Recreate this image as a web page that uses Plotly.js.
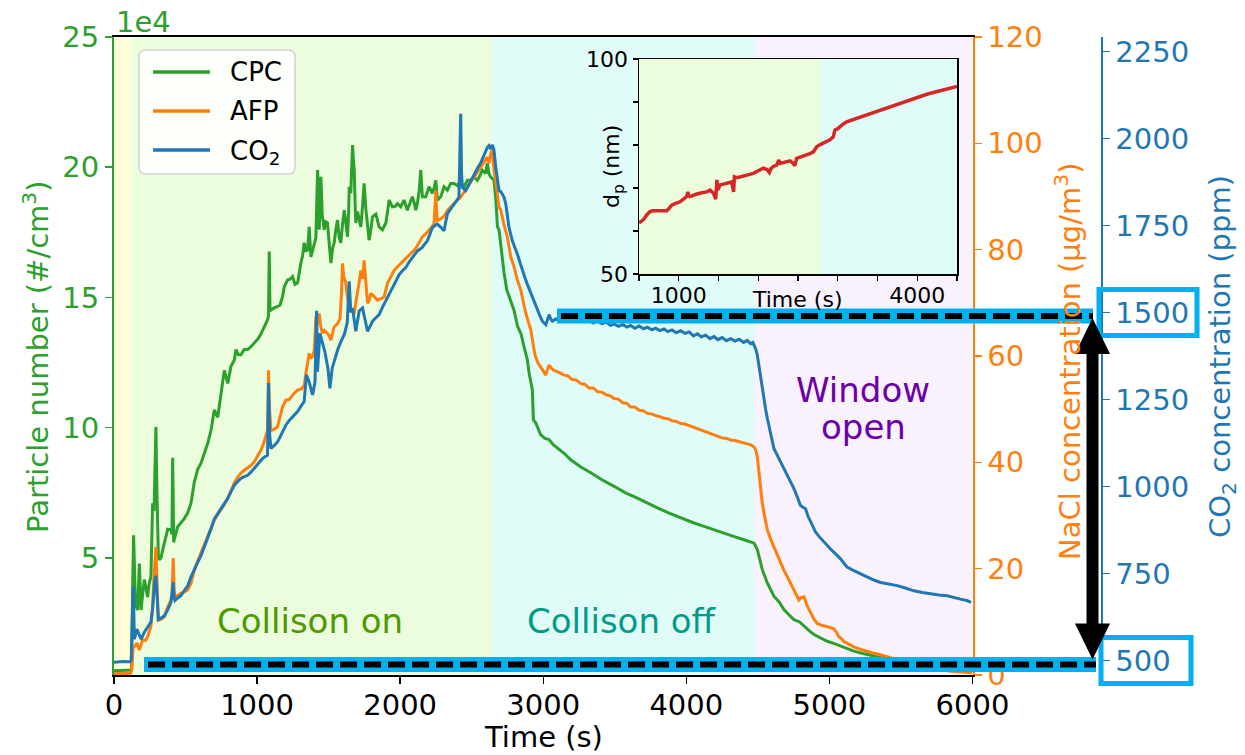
<!DOCTYPE html>
<html><head><meta charset="utf-8">
<script src="https://cdn.plot.ly/plotly-3.0.1.min.js"></script>
<style>html,body{margin:0;padding:0;background:#fff;} #chart{width:1245px;height:755px;}</style>
</head><body><div id="chart"></div>
<script>
// ---------------- DATA ----------------
// CPC particle number (#/cm3) : [time s, value]
const cpcSeries = [[0,6700],[60,6800],[115,6700],[122,7000],[130,38000],[137,58700],[150,32000],[165,30000],[177,47800],[189,30000],[200,36000],[212,41700],[235,35000],[245,40000],[258,42800],[265,69000],[270,71000],[280,68000],[293,100300],[300,75000],[310,50500],[317,49300],[328,50000],[352,55800],[375,61000],[398,60800],[405,59000],[410,88500],[417,56000],[421,57000],[445,62000],[468,63500],[490,65000],[515,67300],[538,71000],[561,79000],[585,84000],[608,86400],[631,90000],[655,94000],[678,99000],[701,106800],[725,104000],[748,113300],[771,122000],[795,117000],[817,123500],[841,126000],[852,130000],[870,128000],[887,128000],[910,130000],[934,130000],[955,131000],[980,132400],[1005,134000],[1027,136000],[1050,138800],[1073,141400],[1080,143000],[1085,167600],[1090,146000],[1097,145200],[1120,146000],[1143,146500],[1160,147000],[1178,150300],[1190,154100],[1213,156700],[1230,157000],[1248,158000],[1265,155000],[1283,155600],[1295,160000],[1306,163200],[1318,166000],[1329,171000],[1341,168000],[1353,168200],[1364,177100],[1376,165600],[1388,168000],[1399,171000],[1411,173000],[1423,198900],[1429,180000],[1434,176000],[1440,185000],[1446,196300],[1455,182000],[1469,176000],[1480,179000],[1492,178600],[1505,170000],[1516,163200],[1528,169000],[1539,171000],[1550,176000],[1562,179700],[1574,173000],[1585,171000],[1597,178000],[1609,183500],[1620,179000],[1632,173300],[1640,183000],[1644,192500],[1655,190000],[1662,198000],[1667,208500],[1673,203000],[1679,198900],[1685,186000],[1690,178600],[1702,183000],[1714,180000],[1725,177100],[1737,185000],[1748,193800],[1760,184000],[1772,178600],[1783,172000],[1795,176000],[1807,181000],[1830,182000],[1853,177100],[1876,176000],[1900,178600],[1912,183000],[1923,187400],[1946,184800],[1965,185000],[1981,186000],[2004,184800],[2027,187400],[2050,183500],[2067,186000],[2085,188700],[2100,186000],[2109,183500],[2120,186000],[2133,191200],[2144,198900],[2150,190000],[2155,188700],[2179,188700],[2202,192500],[2225,190000],[2237,192000],[2249,195000],[2260,187400],[2284,188700],[2307,192500],[2330,191200],[2353,193800],[2376,193800],[2400,193000],[2411,193800],[2423,194000],[2446,192500],[2470,195000],[2493,195000],[2516,196300],[2540,195000],[2551,196000],[2574,198900],[2597,197600],[2609,201500],[2620,197600],[2632,196300],[2656,195000],[2668,188000],[2680,177100],[2691,176000],[2703,169500],[2726,159400],[2745,153000],[2765,150000],[2796,145000],[2820,139000],[2845,136000],[2866,131000],[2889,126000],[2901,121000],[2924,114500],[2928,108000],[2931,103000],[2947,101900],[2982,97300],[3010,96000],[3041,95400],[3070,93500],[3099,92300],[3150,90000],[3192,87700],[3260,85000],[3332,82700],[3410,80000],[3495,77500],[3575,75000],[3658,73000],[3730,71000],[3798,69200],[3880,67200],[3961,65300],[4040,63700],[4124,62100],[4190,60800],[4263,59600],[4330,58300],[4403,57000],[4473,55700],[4496,53200],[4515,49000],[4531,45500],[4566,40400],[4612,35300],[4650,33000],[4682,30200],[4720,28000],[4752,26300],[4790,25500],[4822,23800],[4860,22000],[4892,20600],[4940,19300],[4985,18000],[5030,17200],[5078,16100],[5125,15200],[5171,14200],[5220,13500],[5265,12900],[5330,12000],[5420,11000],[5550,10000],[5700,9300],[5850,8800],[6000,8500]];

// AFP NaCl mass concentration (ug/m3) : [time s, value]
const afpSeries = [[0,0.3],[115,0.3],[125,1.0],[133,5.0],[142,5.3],[160,6.0],[177,4.7],[200,6.6],[220,6.5],[235,7.2],[258,9.1],[270,13],[277,17.3],[285,20],[293,24.1],[300,18],[310,10.3],[330,10.5],[352,11],[375,12.8],[398,14.1],[405,15],[414,22],[420,16],[426,14.7],[447,15],[468,15.4],[490,15.6],[515,16],[538,17.2],[561,19.7],[585,21.5],[608,22.9],[630,24.5],[654,26],[678,27.6],[701,29.1],[725,30.2],[747,31],[770,32],[794,33.2],[818,34.7],[840,36.1],[864,37.2],[887,38],[910,38.5],[934,38.9],[957,39.4],[980,40.1],[1003,41.2],[1027,42.3],[1045,43.5],[1055,44.5],[1073,46],[1080,57.3],[1087,50],[1097,46],[1120,46.2],[1143,46.7],[1160,48.5],[1178,50.4],[1201,51.7],[1225,51.8],[1250,52.7],[1283,53.6],[1310,53.8],[1330,54.5],[1341,56.7],[1352,58.5],[1364,60.5],[1376,59.5],[1388,60.0],[1400,61.1],[1411,67.4],[1420,66],[1434,68.0],[1445,65.5],[1457,64.3],[1470,64.8],[1481,64.5],[1500,64],[1516,63],[1528,64.5],[1539,65.5],[1560,66.0],[1580,67],[1590,72],[1597,77.4],[1605,75],[1620,73.7],[1632,71],[1644,69.2],[1660,68.5],[1679,68.0],[1690,70],[1702,71.8],[1714,74],[1725,76.1],[1737,74.5],[1748,78.0],[1760,73],[1772,69.9],[1784,70.5],[1795,71.8],[1818,71.2],[1841,70.5],[1865,70.8],[1888,71.1],[1911,73.7],[1935,75],[1958,76.1],[1981,76.8],[2004,77.4],[2028,78.0],[2051,78.6],[2074,79.3],[2097,79.9],[2115,80.5],[2132,81.2],[2155,82.4],[2180,83.0],[2202,83.6],[2220,84.2],[2237,84.9],[2243,88],[2249,91.1],[2255,87],[2260,85.5],[2284,85.8],[2307,86.3],[2330,87.4],[2353,88.0],[2376,88.7],[2400,89.3],[2423,89.9],[2446,90.8],[2470,91.8],[2493,92.8],[2516,93.7],[2540,94.6],[2563,95.6],[2586,96.5],[2609,97.4],[2621,96.2],[2633,98.1],[2644,98.7],[2656,94.9],[2668,92.8],[2680,90.6],[2691,88.0],[2703,87.5],[2726,84.6],[2749,82.4],[2773,78.6],[2796,76.8],[2819,74.3],[2843,72.4],[2860,70],[2878,68],[2895,66.5],[2913,64.9],[2936,61.1],[2947,59.8],[2965,58.6],[2982,58.0],[3000,57.2],[3017,56.4],[3030,57.5],[3041,58.3],[3060,57.6],[3076,57.3],[3110,56.9],[3146,56.4],[3170,56.3],[3200,55.6],[3230,55.5],[3262,54.8],[3290,54.7],[3320,54.0],[3350,54.0],[3378,53.3],[3410,53.2],[3440,52.7],[3470,52.5],[3495,52.0],[3525,51.9],[3555,51.2],[3585,51.1],[3611,50.4],[3640,50.4],[3670,49.8],[3700,49.7],[3728,49.2],[3760,49.1],[3785,48.8],[3815,48.6],[3844,48.3],[3870,48.2],[3900,47.8],[3930,47.7],[3961,47.3],[3990,47.2],[4020,46.9],[4050,46.6],[4077,46.4],[4105,46.0],[4135,45.7],[4165,45.5],[4194,45.1],[4220,44.9],[4250,44.6],[4280,44.5],[4310,44.2],[4340,44.1],[4370,43.9],[4400,43.7],[4426,43.6],[4450,43.3],[4473,42.9],[4486,42.2],[4496,41.0],[4508,38],[4519,34.8],[4530,32.5],[4543,30.4],[4566,27.3],[4590,25.5],[4612,24.1],[4635,22.6],[4659,21.0],[4682,19.7],[4705,18.5],[4728,17.2],[4752,16.0],[4770,15.0],[4787,14.1],[4800,14.5],[4822,14.7],[4845,13.0],[4869,11.6],[4892,10.5],[4915,9.7],[4950,9.3],[4985,9.1],[5031,8.7],[5050,8.0],[5066,7.2],[5085,6.8],[5101,6.3],[5135,5.8],[5171,5.3],[5220,4.8],[5265,4.4],[5310,4.1],[5358,3.8],[5450,3.0],[5550,2.2],[5650,1.6],[5750,1.1],[5850,0.7],[6000,0.4]];

// CO2 concentration (ppm) : [time s, value]
const co2Series = [[0,495],[60,497],[110,496],[120,500],[127,600],[135,714],[142,561],[160,590],[175,575],[190,561],[212,581],[235,595],[258,610],[270,650],[277,696],[285,730],[293,743],[300,700],[310,618],[330,622],[352,628],[375,645],[398,667],[408,700],[414,725],[420,680],[426,672],[447,680],[468,686],[490,700],[515,714],[538,740],[561,763],[585,782],[608,801],[631,825],[654,849],[678,878],[701,907],[725,922],[747,936],[770,950],[794,965],[818,985],[840,1003],[864,1014],[887,1023],[910,1028],[934,1032],[957,1041],[980,1051],[1003,1063],[1027,1075],[1050,1084],[1073,1090],[1080,1297],[1088,1150],[1097,1109],[1120,1118],[1143,1128],[1160,1142],[1178,1157],[1201,1176],[1225,1190],[1248,1201],[1283,1215],[1306,1230],[1329,1244],[1345,1321],[1364,1300],[1388,1263],[1405,1300],[1416,1505],[1422,1330],[1439,1440],[1455,1415],[1475,1385],[1495,1340],[1509,1282],[1525,1340],[1545,1370],[1565,1395],[1590,1420],[1612,1440],[1630,1470],[1644,1590],[1655,1500],[1667,1513],[1690,1446],[1714,1505],[1737,1513],[1755,1480],[1772,1446],[1790,1460],[1807,1475],[1830,1485],[1853,1494],[1876,1515],[1900,1533],[1923,1552],[1946,1571],[1970,1590],[1993,1609],[2016,1620],[2039,1629],[2062,1645],[2085,1658],[2103,1667],[2120,1677],[2137,1682],[2155,1687],[2172,1697],[2190,1706],[2208,1725],[2225,1744],[2243,1750],[2260,1754],[2284,1745],[2307,1735],[2318,1760],[2330,1783],[2353,1798],[2376,1812],[2400,1825],[2411,1831],[2417,1950],[2423,2071],[2429,1900],[2435,1860],[2458,1850],[2476,1865],[2493,1879],[2510,1893],[2528,1908],[2545,1918],[2563,1930],[2580,1946],[2597,1966],[2610,1975],[2621,1980],[2633,1970],[2645,1982],[2656,1966],[2668,1918],[2680,1885],[2691,1850],[2703,1848],[2714,1840],[2726,1831],[2738,1812],[2749,1770],[2761,1744],[2784,1706],[2802,1687],[2820,1667],[2838,1643],[2855,1619],[2872,1600],[2889,1581],[2907,1562],[2924,1542],[2942,1523],[2960,1504],[2977,1490],[2994,1475],[3006,1470],[3018,1465],[3030,1480],[3041,1494],[3052,1482],[3064,1475],[3090,1482],[3110,1476],[3122,1486],[3140,1479],[3160,1478],[3180,1485],[3200,1480],[3230,1476],[3262,1482],[3290,1474],[3320,1478],[3350,1470],[3378,1476],[3410,1468],[3440,1472],[3470,1463],[3495,1467],[3525,1460],[3555,1465],[3585,1458],[3611,1463],[3640,1455],[3670,1461],[3700,1453],[3728,1458],[3760,1450],[3785,1455],[3815,1448],[3844,1453],[3870,1445],[3900,1450],[3930,1442],[3961,1448],[3990,1440],[4020,1444],[4050,1433],[4077,1439],[4105,1430],[4135,1435],[4165,1425],[4194,1431],[4220,1422],[4250,1428],[4280,1419],[4310,1425],[4340,1418],[4370,1423],[4400,1414],[4426,1420],[4450,1410],[4465,1414],[4473,1407],[4485,1395],[4496,1378],[4508,1345],[4519,1311],[4531,1278],[4543,1244],[4555,1220],[4566,1196],[4589,1148],[4612,1109],[4635,1090],[4659,1071],[4682,1052],[4705,1032],[4728,1013],[4752,994],[4775,970],[4798,945],[4815,940],[4833,936],[4850,915],[4869,897],[4886,882],[4903,869],[4930,855],[4962,840],[4985,830],[5008,820],[5043,806],[5078,792],[5100,780],[5124,768],[5160,760],[5194,753],[5230,746],[5265,739],[5310,731],[5358,724],[5415,720],[5474,715],[5530,708],[5591,700],[5650,695],[5707,691],[5765,688],[5823,686],[5870,680],[5916,676],[5960,672],[5990,667]];

// Inset: particle diameter d_p (nm) : [time s, value]
const dpSeries = [[500,61.9],[530,62.3],[554,62.6],[600,63.8],[638,64.5],[670,64.7],[701,64.7],[750,64.6],[800,64.8],[848,64.7],[880,65.3],[911,66.0],[960,66.4],[1016,66.8],[1060,67.4],[1100,68.0],[1115,69.1],[1125,68.2],[1141,68.0],[1180,68.3],[1226,68.6],[1290,68.9],[1352,69.1],[1394,69.5],[1436,68.8],[1465,67.4],[1480,71.9],[1490,69.5],[1519,70.7],[1560,70.9],[1603,71.1],[1666,71.4],[1690,69.1],[1700,72.6],[1735,72.4],[1770,72.6],[1810,72.8],[1855,73.0],[1900,73.2],[1938,73.4],[2000,74.0],[2064,74.6],[2110,74.3],[2140,73.6],[2160,74.5],[2190,75.0],[2230,75.3],[2260,76.5],[2274,75.7],[2330,76.0],[2400,76.3],[2441,75.7],[2460,75.2],[2483,76.9],[2550,77.3],[2609,77.7],[2650,78.0],[2693,78.4],[2735,79.6],[2780,80.1],[2818,80.4],[2860,80.8],[2902,81.2],[2944,81.9],[2955,82.6],[2965,83.5],[3000,83.8],[3028,84.3],[3070,84.9],[3112,85.4],[3175,85.8],[3238,86.2],[3300,86.6],[3364,87.0],[3450,87.6],[3532,88.1],[3615,88.7],[3699,89.3],[3780,89.8],[3867,90.3],[3950,90.9],[4035,91.4],[4120,91.8],[4202,92.2],[4290,92.6],[4370,93.0],[4440,93.3],[4500,93.6]];

// Phases (s)
const phaseEdges = [0, 120, 2640, 4480, 6000];
const insetPhaseEdges = [500, 2790, 4500];
const phaseLabels = ['Collison on', 'Collison off'];
const phaseLabelTimes = [1370, 3550];
const windowLabel = ['Window', 'open'];
const windowLabelTime = 5235;

// Axis ticks
const timeTicks = [0, 1000, 2000, 3000, 4000, 5000, 6000];
const cpcTicks = [50000, 100000, 150000, 200000, 250000];
const cpcTickText = ['5', '10', '15', '20', '25'];
const afpTicks = [0, 20, 40, 60, 80, 100, 120];
const co2Ticks = [500, 750, 1000, 1250, 1500, 1750, 2000, 2250];
const insetTimeRange = [500, 4500];
const insetTimeTicks = [1000, 4000];
const insetTimeMinor = [500, 1500, 2000, 2500, 3000, 3500, 4500];
const insetDpRange = [50, 100];
const insetDpTicks = [50, 100];
const insetDpMinor = [60, 70, 80, 90];

// CO2 reference levels (ppm): boxed tick labels and dashed guide lines
const co2BoxLevels = [1500, 500];
const co2LineLevels = [1490, 488];
const co2LineStartTimes = [3096, 210];

// ---------------- STYLE / GEOMETRY ----------------
const FONT = 'DejaVu Sans, Verdana, sans-serif';
const GREEN = '#2ca02c', ORANGE = '#ff7f0e', BLUE = '#1f77b4', RED = '#d62728', CYAN = '#00b0f0';
const phaseColors = ['#fffcd9', '#ebfddc', '#e0fcf8', '#f9f1fc'];
const W = 1245, H = 755;
const M = {l: 114, r: 144, t: 37, b: 80};
const plotW = W - M.l - M.r, plotH = H - M.t - M.b;
const px2x = px => (px - M.l) / plotW;
const py2y = py => (H - M.b - py) / plotH;
const xDomEnd = px2x(972.5);
const xRange = [0, 6000];
const cpcRange = [5060, 250000];
const afpRange = [0, 120];
const co2Range = [458, 2292];
const t2paper = t => (t - xRange[0]) / (xRange[1] - xRange[0]) * xDomEnd;
const co2paper = v => (v - co2Range[0]) / (co2Range[1] - co2Range[0]);
const paper2py = y => H - M.b - y * plotH;
const P = (x, y) => px2x(x).toFixed(5) + ',' + py2y(y).toFixed(5);

const col = (arr, i) => arr.map(p => p[i]);

const traces = [
  {x: col(cpcSeries, 0), y: col(cpcSeries, 1), name: 'CPC', type: 'scatter', mode: 'lines',
   line: {color: GREEN, width: 3}, xaxis: 'x', yaxis: 'y', showlegend: false},
  {x: col(afpSeries, 0), y: col(afpSeries, 1), name: 'AFP', type: 'scatter', mode: 'lines',
   line: {color: ORANGE, width: 3}, xaxis: 'x', yaxis: 'y2', showlegend: false},
  {x: col(co2Series, 0), y: col(co2Series, 1), name: 'CO<sub>2</sub>', type: 'scatter', mode: 'lines',
   line: {color: BLUE, width: 3}, xaxis: 'x', yaxis: 'y3', showlegend: false},
  {x: col(dpSeries, 0), y: col(dpSeries, 1), name: 'dp', type: 'scatter', mode: 'lines',
   line: {color: RED, width: 3.5}, xaxis: 'x2', yaxis: 'y4', showlegend: false}
];

const shapes = [];
for (let i = 0; i < phaseEdges.length - 1; i++) {
  shapes.push({type: 'rect', xref: 'x', yref: 'paper', x0: phaseEdges[i], x1: phaseEdges[i+1], y0: 0, y1: 1,
    fillcolor: phaseColors[i], line: {width: 0}, layer: 'below'});
}
for (let i = 0; i < insetPhaseEdges.length - 1; i++) {
  shapes.push({type: 'rect', xref: 'x2', yref: 'y4', x0: insetPhaseEdges[i], x1: insetPhaseEdges[i+1],
    y0: insetDpRange[0], y1: insetDpRange[1],
    fillcolor: phaseColors[i+1], line: {width: 0}, layer: 'below'});
}
// dashed guide lines with cyan halo
const lineEndX = [px2x(1093), px2x(1096)];
co2LineLevels.forEach((lv, i) => {
  const y = co2paper(lv);
  shapes.push({type: 'line', xref: 'paper', yref: 'paper', x0: t2paper(co2LineStartTimes[i]), x1: lineEndX[i], y0: y, y1: y,
    line: {color: CYAN, width: 15}, layer: 'above'});
  shapes.push({type: 'line', xref: 'paper', yref: 'paper', x0: t2paper(co2LineStartTimes[i]) + px2x(M.l + 4), x1: lineEndX[i], y0: y, y1: y,
    line: {color: '#000', width: 6, dash: '17px,7px'}, layer: 'above'});
});
// boxes around tick labels
const boxX = [[1099, 1197], [1101, 1191]];
co2BoxLevels.forEach((lv, i) => {
  const yc = paper2py(co2paper(lv));
  shapes.push({type: 'rect', xref: 'paper', yref: 'paper', x0: px2x(boxX[i][0]), x1: px2x(boxX[i][1]),
    y0: py2y(yc + 23), y1: py2y(yc - 23), line: {color: CYAN, width: 5}, fillcolor: 'rgba(0,0,0,0)', layer: 'above'});
});
// double-headed arrow
(function () {
  const xc = 1092.5;
  const yTop = paper2py(co2paper(co2LineLevels[0])) + 2;
  const yBot = paper2py(co2paper(co2LineLevels[1])) - 5;
  const hl = 36, hw = 17.5, sw = 6;
  const path = 'M' + P(xc, yTop) + ' L' + P(xc + hw, yTop + hl) + ' L' + P(xc + sw, yTop + hl) +
    ' L' + P(xc + sw, yBot - hl) + ' L' + P(xc + hw, yBot - hl) + ' L' + P(xc, yBot) +
    ' L' + P(xc - hw, yBot - hl) + ' L' + P(xc - sw, yBot - hl) + ' L' + P(xc - sw, yTop + hl) +
    ' L' + P(xc - hw, yTop + hl) + ' Z';
  shapes.push({type: 'path', xref: 'paper', yref: 'paper', path: path, fillcolor: '#000', line: {width: 0}, layer: 'above'});
})();

// legend box (matplotlib style, rounded frame)
const legendBox = {x0: 139, x1: 295, y0: 50, y1: 174, r: 7};
const legendRows = [72, 111, 150];
const legendLine = [153, 210];
const legendTextX = 228;
(function () {
  const b = legendBox, r = b.r;
  const path = 'M' + P(b.x0 + r, b.y0) + ' L' + P(b.x1 - r, b.y0) + ' Q' + P(b.x1, b.y0) + ' ' + P(b.x1, b.y0 + r) +
    ' L' + P(b.x1, b.y1 - r) + ' Q' + P(b.x1, b.y1) + ' ' + P(b.x1 - r, b.y1) +
    ' L' + P(b.x0 + r, b.y1) + ' Q' + P(b.x0, b.y1) + ' ' + P(b.x0, b.y1 - r) +
    ' L' + P(b.x0, b.y0 + r) + ' Q' + P(b.x0, b.y0) + ' ' + P(b.x0 + r, b.y0) + ' Z';
  shapes.push({type: 'path', xref: 'paper', yref: 'paper', path: path, fillcolor: 'rgba(255,255,255,0.85)',
    line: {color: '#d2d2d2', width: 1.5}, layer: 'above'});
})();

const annotations = [];
traces.slice(0, 3).forEach((tr, i) => {
  shapes.push({type: 'line', xref: 'paper', yref: 'paper', x0: px2x(legendLine[0]), x1: px2x(legendLine[1]),
    y0: py2y(legendRows[i]), y1: py2y(legendRows[i]), line: {color: tr.line.color, width: 3.3}, layer: 'above'});
  annotations.push({text: tr.name, xref: 'paper', yref: 'paper', x: px2x(legendTextX), y: py2y(legendRows[i] + (i === 2 ? 3 : 0)),
    xanchor: 'left', yanchor: 'middle', showarrow: false, font: {family: FONT, size: 26, color: '#000'}});
});

annotations.push(
  {text: '1e4', xref: 'paper', yref: 'paper', x: 0, y: 1, xanchor: 'left', yanchor: 'bottom', yshift: -4, showarrow: false,
   font: {family: FONT, size: 29, color: GREEN}},
  {text: 'Particle number (#/cm<sup>3</sup>)', xref: 'paper', yref: 'paper', x: px2x(36), y: py2y(357), textangle: -90,
   xanchor: 'center', yanchor: 'middle', showarrow: false, font: {family: FONT, size: 29, color: GREEN}},
  {text: 'NaCl concentration (µg/m<sup>3</sup>)', xref: 'paper', yref: 'paper', x: px2x(1068), y: py2y(362), textangle: -90,
   xanchor: 'center', yanchor: 'middle', showarrow: false, font: {family: FONT, size: 29, color: ORANGE}},
  {text: 'CO<sub>2</sub> concentration (ppm)', xref: 'paper', yref: 'paper', x: px2x(1222), y: py2y(357), textangle: -90,
   xanchor: 'center', yanchor: 'middle', showarrow: false, font: {family: FONT, size: 29, color: BLUE}},
  {text: 'Time (s)', xref: 'paper', yref: 'paper', x: xDomEnd / 2, y: py2y(737), xanchor: 'center', yanchor: 'middle',
   borderpad: 0, showarrow: false, font: {family: FONT, size: 29, color: '#000'}},
  {text: phaseLabels[0], xref: 'x', yref: 'paper', x: phaseLabelTimes[0], y: py2y(621), xanchor: 'center', yanchor: 'middle',
   showarrow: false, font: {family: FONT, size: 34, color: '#4c9a00'}},
  {text: phaseLabels[1], xref: 'x', yref: 'paper', x: phaseLabelTimes[1], y: py2y(621), xanchor: 'center', yanchor: 'middle',
   showarrow: false, font: {family: FONT, size: 34, color: '#009a88'}},
  {text: windowLabel[0], xref: 'x', yref: 'paper', x: windowLabelTime, y: py2y(390), xanchor: 'center', yanchor: 'middle',
   showarrow: false, font: {family: FONT, size: 34, color: '#6a00a8'}},
  {text: windowLabel[1], xref: 'x', yref: 'paper', x: windowLabelTime, y: py2y(427), xanchor: 'center', yanchor: 'middle',
   showarrow: false, font: {family: FONT, size: 34, color: '#6a00a8'}},
  {text: 'Time (s)', xref: 'paper', yref: 'paper', x: px2x(797), y: py2y(299), xanchor: 'center', yanchor: 'middle',
   showarrow: false, font: {family: FONT, size: 22, color: '#000'}},
  {text: 'd<sub>p</sub> (nm)', xref: 'paper', yref: 'paper', x: px2x(614), y: py2y(167), textangle: -90,
   xanchor: 'center', yanchor: 'middle', showarrow: false, font: {family: FONT, size: 22, color: '#000'}}
);

const layout = {
  width: W, height: H,
  margin: M,
  paper_bgcolor: '#ffffff', plot_bgcolor: '#ffffff',
  font: {family: FONT, size: 29, color: '#000'},
  showlegend: false,
  xaxis: {domain: [0, xDomEnd], range: xRange, anchor: 'y', tickvals: timeTicks, ticks: 'outside', ticklen: 7, tickwidth: 1.5,
    tickcolor: '#000', showline: true, linecolor: '#000', linewidth: 2, mirror: true, showgrid: false, zeroline: false,
    ticklabelstandoff: -4,
    tickfont: {family: FONT, size: 29, color: '#000'}, automargin: false},
  yaxis: {range: cpcRange, tickvals: cpcTicks, ticktext: cpcTickText, ticks: 'outside', ticklen: 7, tickwidth: 1.5,
    tickcolor: GREEN, showline: true, linecolor: GREEN, linewidth: 2, showgrid: false, zeroline: false,
    tickfont: {family: FONT, size: 29, color: GREEN}, automargin: false},
  yaxis2: {overlaying: 'y', side: 'right', anchor: 'x', range: afpRange, tickvals: afpTicks, ticks: 'outside', ticklen: 7,
    tickwidth: 1.5, tickcolor: ORANGE, showline: true, linecolor: ORANGE, linewidth: 2, showgrid: false, zeroline: false,
    tickfont: {family: FONT, size: 29, color: ORANGE}, automargin: false},
  yaxis3: {overlaying: 'y', side: 'right', anchor: 'free', position: 1, range: co2Range, tickvals: co2Ticks, ticks: 'outside',
    ticklen: 7, tickwidth: 1.5, tickcolor: BLUE, showline: true, linecolor: BLUE, linewidth: 1.5, showgrid: false, zeroline: false,
    tickfont: {family: FONT, size: 29, color: BLUE}, automargin: false},
  xaxis2: {domain: [px2x(639), px2x(957)], anchor: 'y4', range: insetTimeRange,
    tickvals: insetTimeTicks, ticks: 'outside', ticklen: 5, tickwidth: 1.2, tickcolor: '#000',
    minor: {tickvals: insetTimeMinor, ticks: 'outside', ticklen: 5, tickwidth: 1.2, tickcolor: '#000', showgrid: false},
    showline: true, linecolor: '#000', linewidth: 1.5, mirror: true, showgrid: false, zeroline: false,
    ticklabelstandoff: -4,
    tickfont: {family: FONT, size: 22, color: '#000'}, automargin: false},
  yaxis4: {domain: [py2y(274), py2y(59)], anchor: 'x2', range: insetDpRange,
    tickvals: insetDpTicks, ticks: 'outside', ticklen: 5, tickwidth: 1.2, tickcolor: '#000',
    minor: {tickvals: insetDpMinor, ticks: 'outside', ticklen: 5, tickwidth: 1.2, tickcolor: '#000', showgrid: false},
    showline: true, linecolor: '#000', linewidth: 1.5, mirror: true, showgrid: false, zeroline: false,
    tickfont: {family: FONT, size: 22, color: '#000'}, automargin: false},
  shapes: shapes,
  annotations: annotations,
  hovermode: false
};

Plotly.newPlot('chart', traces, layout, {staticPlot: true, displayModeBar: false});
</script>
</body></html>
